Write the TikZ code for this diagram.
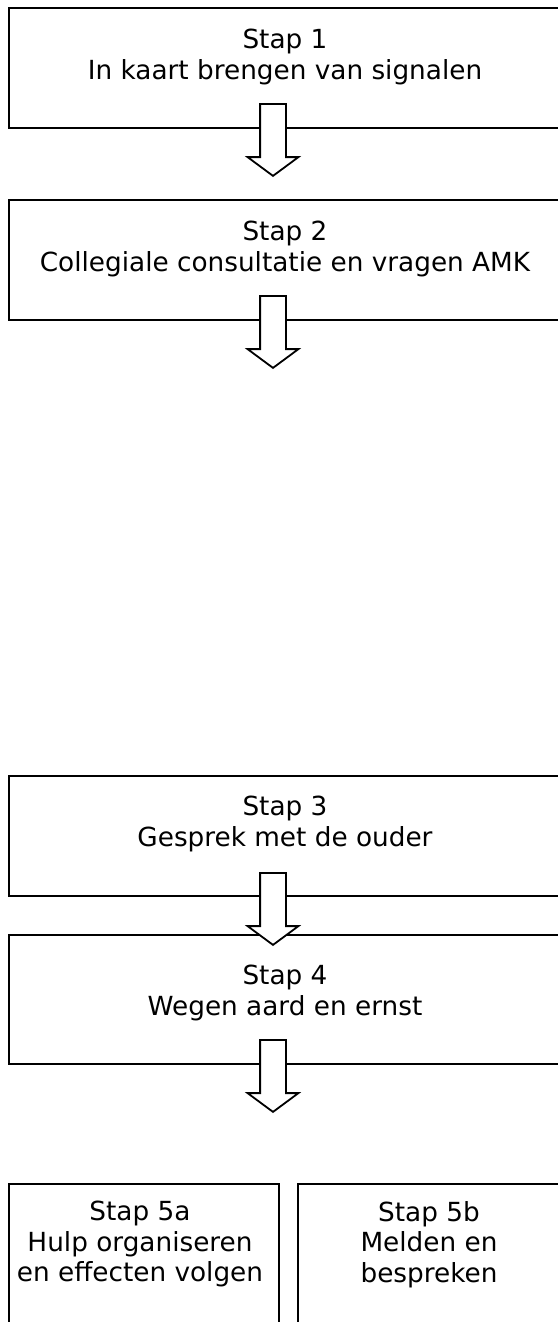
\documentclass[tikz,border=0pt]{standalone}
\usepackage{fontspec}
\setmainfont{DejaVu Sans}
\usetikzlibrary{shapes.arrows}

\begin{document}
\begin{tikzpicture}[x=1pt,y=-1pt,inner sep=0pt]
    \tikzstyle{kader}=[rectangle,draw=black,line width=1.8pt,anchor=north west]
    \tikzstyle{stap}=[align=center,font=\fontsize{26.3}{30.5}\selectfont,anchor=north]
    \tikzstyle{pijl}=[single arrow,draw=black,fill=white,line width=1.8pt,shape border rotate=270,inner sep=12pt,
        minimum height=72pt,single arrow head extend=12.5pt,single arrow tip angle=107,anchor=tail]
    \useasboundingbox (0,0) rectangle (557,1322);

    % kaders
    \node[kader,minimum width=554pt,minimum height=120pt] (k1) at (8,7) {};
    \node[kader,minimum width=554pt,minimum height=120pt] (k2) at (8,199) {};
    \node[kader,minimum width=554pt,minimum height=120pt] (k3) at (8,775) {};
    \node[kader,minimum width=554pt,minimum height=129pt] (k4) at (8,934) {};
    \node[kader,minimum width=270pt,minimum height=200pt] (k5a) at (8,1183) {};
    \node[kader,minimum width=264pt,minimum height=200pt] (k5b) at (297,1183) {};

    % teksten
    \node[stap] (s1) at (285,29) {Stap 1\\In kaart brengen van signalen};
    \node[stap] (s2) at (285,221) {Stap 2\\Collegiale consultatie en vragen AMK};
    \node[stap] (s3) at (285,796) {Stap 3\\Gesprek met de ouder};
    \node[stap] (s4) at (285,965) {Stap 4\\Wegen aard en ernst};
    \node[stap] (s5a) at (140,1201) {Stap 5a\\Hulp organiseren\\en effecten volgen};
    \node[stap] (s5b) at (429,1201) {Stap 5b\\Melden en\\bespreken};

    % pijlen
    \foreach \y/\n in {103/1,295/2,872/3,1039/4} {
        \node[pijl] (p\n) at (273,\y) {};
    };
\end{tikzpicture}
\end{document}
